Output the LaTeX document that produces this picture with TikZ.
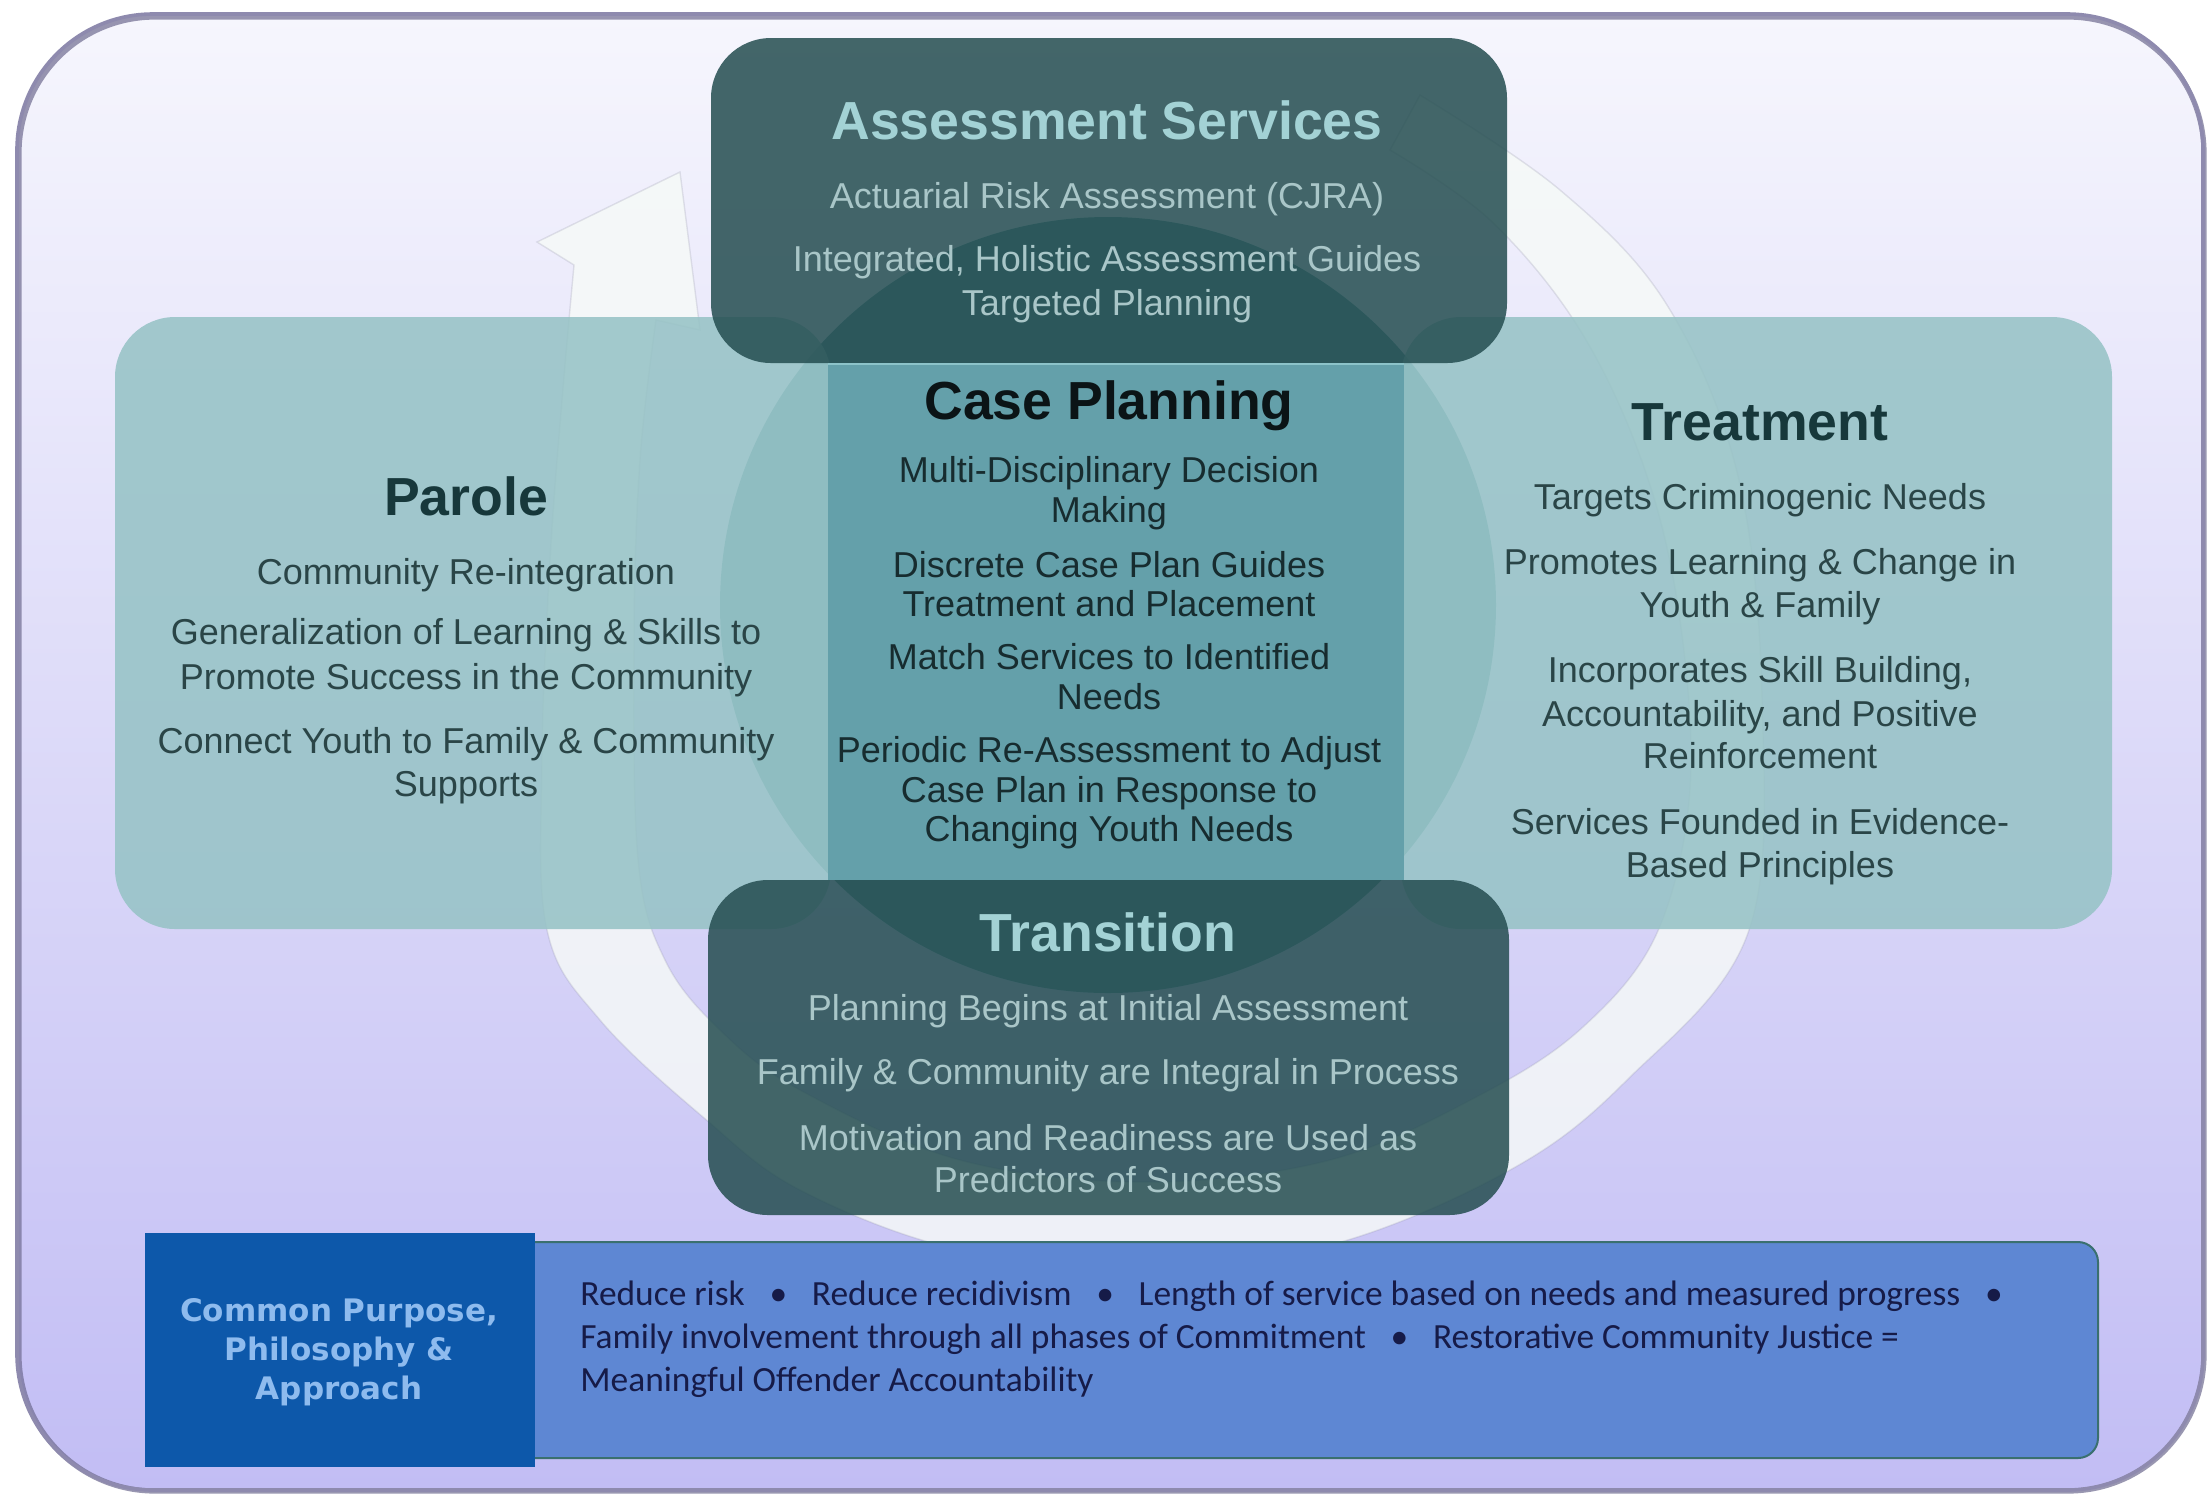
\documentclass[tikz,border=0pt]{standalone}
\usepackage{fontspec}
\setmainfont{Liberation Sans}
\newfontfamily\carlito{Carlito}
\newfontfamily\dvs{DejaVu Sans}
\definecolor{bgtop}{HTML}{F6F6FD}
\definecolor{bgmid}{HTML}{E2E0FA}
\definecolor{bgbot}{HTML}{C2BDF4}
\definecolor{frame}{HTML}{8E8AAE}
\definecolor{frameshadow}{HTML}{6F6B90}
\definecolor{ringfill}{HTML}{F6FAF8}
\definecolor{ringedge}{HTML}{8A8AA2}
\definecolor{circK}{HTML}{5A96A0}
\definecolor{darkbox}{HTML}{244D50}
\definecolor{lightbox}{HTML}{97C3C6}
\definecolor{centersq}{HTML}{64A0AA}
\definecolor{sqedge}{HTML}{8CC3C9}
\definecolor{ttlD}{HTML}{A3D2D5}
\definecolor{txtD}{HTML}{A9C6C8}
\definecolor{ttlL}{HTML}{17383B}
\definecolor{txtL}{HTML}{2A4547}
\definecolor{ttlC}{HTML}{0B1416}
\definecolor{txtC}{HTML}{172C2F}
\definecolor{bardark}{HTML}{0D58AA}
\definecolor{barlight}{HTML}{5E87D3}
\definecolor{baredge}{HTML}{3A706F}
\definecolor{bartxtL}{HTML}{8EBBEE}
\definecolor{bartxtR}{HTML}{161B48}
\newcommand\mybul{\hspace{0.7em}•\hspace{0.7em}}
\begin{document}
\begin{tikzpicture}[x=0.5pt,y=-0.5pt,
  bodyfont/.style={font=\fontsize{18}{20}\selectfont, anchor=base, inner sep=0pt},
  ttlfont/.style={font=\bfseries\fontsize{26.8}{30}\selectfont, anchor=base, inner sep=0pt},
  bodyD/.style={bodyfont, text=txtD},
  bodyL/.style={bodyfont, text=txtL},
  bodyC/.style={bodyfont, text=txtC},
  titleD/.style={ttlfont, text=ttlD},
  titleL/.style={ttlfont, text=ttlL},
  titleC/.style={ttlfont, text=ttlC},
  dbox/.style={fill=darkbox, fill opacity=0.85, rounded corners=30pt},
  lbox/.style={fill=lightbox, fill opacity=0.88, rounded corners=30pt},
  ring/.style={fill=ringfill, fill opacity=0.82, draw=ringedge, draw opacity=0.22, line width=0.7pt},
  bartext/.style={anchor=base west, inner sep=0pt, text=bartxtR, font=\carlito\fontsize{17.7}{21}\selectfont}
]
\useasboundingbox (0,0) rectangle (2208,1496);
\fill[white] (0,0) rectangle (2208,1496);
% background frame
\shade[top color=bgtop, middle color=bgmid, bottom color=bgbot, rounded corners=68pt] (17,14) rectangle (2203,1490);
\draw[frameshadow, line width=2.6pt, rounded corners=68pt, opacity=0.7] (19,17) rectangle (2204,1491);
\draw[frame, line width=1.8pt, rounded corners=68pt] (17,14) rectangle (2203,1490);

% circular arrow ring
\path[ring] plot[smooth, tension=0.6] coordinates {(1420,95) (1560,190) (1667,305) (1738,476) (1762,700) (1748,933) (1627,1080) (1510,1170) (1330,1245) (1146,1265) (960,1250) (800,1190) (703,1117) (600,1020) (547,930) (542,760) (550,560) (562,400) (574,265)}
  -- (537,242) -- (680,172) -- (700,330)
  -- plot[smooth, tension=0.6] coordinates {(656,320) (640,460) (634,640) (638,860) (665,960) (720,1030) (800,1090) (960,1160) (1146,1182) (1330,1160) (1480,1095) (1583,1027) (1657,933) (1690,790) (1680,620) (1645,470) (1580,330) (1490,220) (1390,150)} -- cycle;

% central circle
\fill[circK] (1108,605) circle[radius=388];

% four boxes
\path[lbox] (115,317) rectangle (831,929);
\path[lbox] (1401,317) rectangle (2112,929);
\path[dbox] (711,38) rectangle (1507,363);
\path[dbox] (708,880) rectangle (1509,1215);

% centre square
\fill[centersq] (828,363) rectangle (1404,880);
\draw[sqedge, line width=1.2pt] (828,364) -- (1404,364);

% Assessment Services
\node[titleD] (asT) at (1107,139) {Assessment Services};
\foreach \yy/\txt [count=\i] in {208/Actuarial Risk Assessment (CJRA), 271/{Integrated, Holistic Assessment Guides}, 315/Targeted Planning}
  \node[bodyD] (as\i) at (1107,\yy) {\txt};

% Case Planning
\node[titleC] (cpT) at (1109,419) {Case Planning};
\foreach \yy/\txt [count=\i] in {482/Multi-Disciplinary Decision, 522/Making, 577/Discrete Case Plan Guides, 616/Treatment and Placement, 669/Match Services to Identified, 709/Needs, 762/Periodic Re-Assessment to Adjust, 802/Case Plan in Response to, 841/Changing Youth Needs}
  \node[bodyC] (cp\i) at (1109,\yy) {\txt};

% Parole
\node[titleL] (paT) at (466,515) {Parole};
\foreach \yy/\txt [count=\i] in {584/Community Re-integration, 644/Generalization of Learning \& Skills to, 689/Promote Success in the Community, 753/Connect Youth to Family \& Community, 796/Supports}
  \node[bodyL] (pa\i) at (466,\yy) {\txt};

% Treatment
\node[titleL] (trT) at (1760,440) {Treatment};
\foreach \yy/\txt [count=\i] in {509/Targets Criminogenic Needs, 574/Promotes Learning \& Change in, 617/Youth \& Family, 682/{Incorporates Skill Building,}, 726/{Accountability, and Positive}, 768/Reinforcement, 834/Services Founded in Evidence-, 877/Based Principles}
  \node[bodyL] (tr\i) at (1760,\yy) {\txt};

% Transition
\node[titleD] (tsT) at (1108,951) {Transition};
\foreach \yy/\txt [count=\i] in {1020/Planning Begins at Initial Assessment, 1084/Family \& Community are Integral in Process, 1150/Motivation and Readiness are Used as, 1192/Predictors of Success}
  \node[bodyD] (ts\i) at (1108,\yy) {\txt};

% bottom bar
\path[fill=barlight, draw=baredge, line width=1pt, rounded corners=10pt] (500,1242) rectangle (2098,1458);
\fill[bardark] (145,1233) rectangle (535,1467);
\node[align=center, inner sep=0pt, text=bartxtL, font=\dvs\bfseries\fontsize{15.5}{19.5}\selectfont] (cpp) at (339,1352) {Common Purpose,\\Philosophy \&\\Approach};
\node[bartext] (b1) at (580,1305) {Reduce risk\mybul Reduce recidivism\mybul Length of service based on needs and measured progress\mybul};
\node[bartext] (b2) at (580,1348) {Family involvement through all phases of Commitment\mybul Restorative Community Justice =};
\node[bartext] (b3) at (580,1391) {Meaningful Offender Accountability};
\end{tikzpicture}
\end{document}
